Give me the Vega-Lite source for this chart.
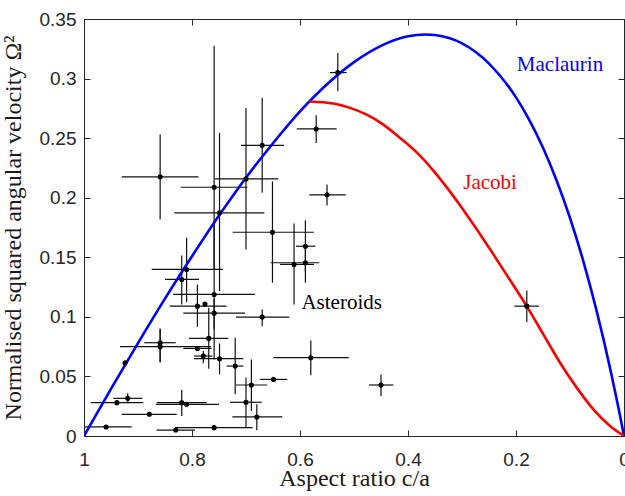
{
  "$schema": "https://vega.github.io/schema/vega-lite/v6.json",
  "width": 540,
  "height": 417,
  "autosize": "none",
  "padding": {"left": 84, "top": 19, "right": 1, "bottom": 60},
  "background": "white",
  "config": {
    "view": {"stroke": "#262626", "strokeWidth": 1},
    "axis": {
      "domain": false,
      "grid": false,
      "tickColor": "#262626",
      "tickSize": -6,
      "tickWidth": 1,
      "labelColor": "#262626",
      "labelFont": "Liberation Sans",
      "labelFontSize": 19,
      "titleFont": "Liberation Serif",
      "titleFontWeight": "normal",
      "titleColor": "#1a1a1a",
      "titleFontSize": 24
    }
  },
  "datasets": {
    "curves": [
      {"name": "Maclaurin", "q": 1.0, "N": 0.0},
      {"name": "Maclaurin", "q": 0.975, "N": 0.0199},
      {"name": "Maclaurin", "q": 0.95, "N": 0.0395},
      {"name": "Maclaurin", "q": 0.9, "N": 0.078},
      {"name": "Maclaurin", "q": 0.85, "N": 0.1153},
      {"name": "Maclaurin", "q": 0.8, "N": 0.1508},
      {"name": "Maclaurin", "q": 0.75, "N": 0.185},
      {"name": "Maclaurin", "q": 0.7, "N": 0.2168},
      {"name": "Maclaurin", "q": 0.65, "N": 0.2457},
      {"name": "Maclaurin", "q": 0.6, "N": 0.2724},
      {"name": "Maclaurin", "q": 0.55, "N": 0.2952},
      {"name": "Maclaurin", "q": 0.5, "N": 0.3138},
      {"name": "Maclaurin", "q": 0.45, "N": 0.3275},
      {"name": "Maclaurin", "q": 0.4, "N": 0.3355},
      {"name": "Maclaurin", "q": 0.3678, "N": 0.337},
      {"name": "Maclaurin", "q": 0.35, "N": 0.3365},
      {"name": "Maclaurin", "q": 0.3, "N": 0.3295},
      {"name": "Maclaurin", "q": 0.25, "N": 0.3126},
      {"name": "Maclaurin", "q": 0.2, "N": 0.2842},
      {"name": "Maclaurin", "q": 0.175, "N": 0.265},
      {"name": "Maclaurin", "q": 0.15, "N": 0.242},
      {"name": "Maclaurin", "q": 0.125, "N": 0.2147},
      {"name": "Maclaurin", "q": 0.1, "N": 0.183},
      {"name": "Maclaurin", "q": 0.075, "N": 0.1462},
      {"name": "Maclaurin", "q": 0.05, "N": 0.1038},
      {"name": "Maclaurin", "q": 0.025, "N": 0.0553},
      {"name": "Maclaurin", "q": 0.01, "N": 0.023},
      {"name": "Maclaurin", "q": 0.0, "N": 0.0},
      {"name": "Jacobi", "q": 0.5827, "N": 0.2807},
      {"name": "Jacobi", "q": 0.5383, "N": 0.279},
      {"name": "Jacobi", "q": 0.5074, "N": 0.2754},
      {"name": "Jacobi", "q": 0.4765, "N": 0.2697},
      {"name": "Jacobi", "q": 0.4457, "N": 0.2614},
      {"name": "Jacobi", "q": 0.4148, "N": 0.2502},
      {"name": "Jacobi", "q": 0.3839, "N": 0.238},
      {"name": "Jacobi", "q": 0.3531, "N": 0.2228},
      {"name": "Jacobi", "q": 0.3222, "N": 0.2051},
      {"name": "Jacobi", "q": 0.3037, "N": 0.1936},
      {"name": "Jacobi", "q": 0.2728, "N": 0.1735},
      {"name": "Jacobi", "q": 0.242, "N": 0.1525},
      {"name": "Jacobi", "q": 0.2111, "N": 0.1309},
      {"name": "Jacobi", "q": 0.1802, "N": 0.109},
      {"name": "Jacobi", "q": 0.1494, "N": 0.0853},
      {"name": "Jacobi", "q": 0.1185, "N": 0.0615},
      {"name": "Jacobi", "q": 0.0876, "N": 0.0406},
      {"name": "Jacobi", "q": 0.0568, "N": 0.0224},
      {"name": "Jacobi", "q": 0.0259, "N": 0.0084},
      {"name": "Jacobi", "q": 0.0, "N": 0.0}
    ],
    "asteroids": [
      {"q": 0.859, "N": 0.2175, "qlo": 0.788, "qhi": 0.93, "Nlo": 0.1817, "Nhi": 0.253},
      {"q": 0.53, "N": 0.305, "qlo": 0.5136, "qhi": 0.5444, "Nlo": 0.2893, "Nhi": 0.3215},
      {"q": 0.57, "N": 0.2577, "qlo": 0.532, "qhi": 0.606, "Nlo": 0.246, "Nhi": 0.2692},
      {"q": 0.55, "N": 0.2024, "qlo": 0.5154, "qhi": 0.5827, "Nlo": 0.1934, "Nhi": 0.211},
      {"q": 0.67, "N": 0.244, "qlo": 0.6296, "qhi": 0.7093, "Nlo": 0.2041, "Nhi": 0.2837},
      {"q": 0.7, "N": 0.2158, "qlo": 0.6402, "qhi": 0.7574, "Nlo": 0.1566, "Nhi": 0.2754},
      {"q": 0.759, "N": 0.2088, "qlo": 0.6975, "qhi": 0.8209, "Nlo": 0.14, "Nhi": 0.3276},
      {"q": 0.749, "N": 0.1873, "qlo": 0.6661, "qhi": 0.8328, "Nlo": 0.1216, "Nhi": 0.2544},
      {"q": 0.651, "N": 0.171, "qlo": 0.5741, "qhi": 0.7247, "Nlo": 0.1286, "Nhi": 0.2138},
      {"q": 0.59, "N": 0.1593, "qlo": 0.5717, "qhi": 0.6074, "Nlo": 0.138, "Nhi": 0.1811},
      {"q": 0.59, "N": 0.1454, "qlo": 0.5643, "qhi": 0.6543, "Nlo": 0.1286, "Nhi": 0.16},
      {"q": 0.611, "N": 0.144, "qlo": 0.5741, "qhi": 0.637, "Nlo": 0.1104, "Nhi": 0.1784},
      {"q": 0.81, "N": 0.1398, "qlo": 0.7432, "qhi": 0.8746, "Nlo": 0.1124, "Nhi": 0.1664},
      {"q": 0.819, "N": 0.1314, "qlo": 0.787, "qhi": 0.85, "Nlo": 0.1104, "Nhi": 0.1515},
      {"q": 0.759, "N": 0.1188, "qlo": 0.6833, "qhi": 0.8346, "Nlo": 0.0643, "Nhi": 0.18},
      {"q": 0.79, "N": 0.109, "qlo": 0.7361, "qhi": 0.8409, "Nlo": 0.0917, "Nhi": 0.1272},
      {"q": 0.776, "N": 0.1107, "qlo": 0.776, "qhi": 0.776, "Nlo": 0.1107, "Nhi": 0.1107},
      {"q": 0.759, "N": 0.1031, "qlo": 0.7018, "qhi": 0.8161, "Nlo": 0.09, "Nhi": 0.115},
      {"q": 0.67, "N": 0.0998, "qlo": 0.6198, "qhi": 0.7185, "Nlo": 0.0922, "Nhi": 0.1062},
      {"q": 0.769, "N": 0.0819, "qlo": 0.7328, "qhi": 0.8056, "Nlo": 0.0565, "Nhi": 0.1077},
      {"q": 0.859, "N": 0.0783, "qlo": 0.8302, "qhi": 0.8883, "Nlo": 0.062, "Nhi": 0.09},
      {"q": 0.859, "N": 0.075, "qlo": 0.7648, "qhi": 0.9333, "Nlo": 0.062, "Nhi": 0.09},
      {"q": 0.79, "N": 0.0735, "qlo": 0.7636, "qhi": 0.8161, "Nlo": 0.0735, "Nhi": 0.0735},
      {"q": 0.779, "N": 0.0671, "qlo": 0.7624, "qhi": 0.7963, "Nlo": 0.061, "Nhi": 0.0713},
      {"q": 0.749, "N": 0.0649, "qlo": 0.705, "qhi": 0.7963, "Nlo": 0.0517, "Nhi": 0.0777},
      {"q": 0.924, "N": 0.0615, "qlo": 0.924, "qhi": 0.924, "Nlo": 0.0615, "Nhi": 0.0615},
      {"q": 0.58, "N": 0.0657, "qlo": 0.5098, "qhi": 0.6494, "Nlo": 0.0509, "Nhi": 0.0802},
      {"q": 0.72, "N": 0.0587, "qlo": 0.705, "qhi": 0.7357, "Nlo": 0.035, "Nhi": 0.0825},
      {"q": 0.649, "N": 0.0475, "qlo": 0.6235, "qhi": 0.6741, "Nlo": 0.0475, "Nhi": 0.0475},
      {"q": 0.69, "N": 0.0428, "qlo": 0.6606, "qhi": 0.7191, "Nlo": 0.021, "Nhi": 0.0643},
      {"q": 0.919, "N": 0.0316, "qlo": 0.892, "qhi": 0.9457, "Nlo": 0.0274, "Nhi": 0.0358},
      {"q": 0.939, "N": 0.028, "qlo": 0.8902, "qhi": 0.9877, "Nlo": 0.028, "Nhi": 0.028},
      {"q": 0.819, "N": 0.028, "qlo": 0.7728, "qhi": 0.8654, "Nlo": 0.0168, "Nhi": 0.0386},
      {"q": 0.81, "N": 0.0266, "qlo": 0.75, "qhi": 0.8667, "Nlo": 0.0266, "Nhi": 0.0266},
      {"q": 0.7, "N": 0.0283, "qlo": 0.6709, "qhi": 0.7296, "Nlo": 0.0073, "Nhi": 0.049},
      {"q": 0.879, "N": 0.0182, "qlo": 0.8284, "qhi": 0.9302, "Nlo": 0.0182, "Nhi": 0.0182},
      {"q": 0.68, "N": 0.016, "qlo": 0.6328, "qhi": 0.7253, "Nlo": 0.0048, "Nhi": 0.0266},
      {"q": 0.959, "N": 0.0076, "qlo": 0.9117, "qhi": 0.9981, "Nlo": 0.0076, "Nhi": 0.0076},
      {"q": 0.83, "N": 0.005, "qlo": 0.7944, "qhi": 0.8654, "Nlo": 0.005, "Nhi": 0.005},
      {"q": 0.759, "N": 0.007, "qlo": 0.6876, "qhi": 0.8315, "Nlo": 0.007, "Nhi": 0.007},
      {"q": 0.45, "N": 0.0428, "qlo": 0.4272, "qhi": 0.4722, "Nlo": 0.0335, "Nhi": 0.0517},
      {"q": 0.18, "N": 0.109, "qlo": 0.1574, "qhi": 0.2031, "Nlo": 0.0956, "Nhi": 0.1222}
    ],
    "labels": [
      {"name": "Maclaurin", "q": 0.1185, "N": 0.3113},
      {"name": "Jacobi", "q": 0.248, "N": 0.2123},
      {"name": "Asteroids", "q": 0.5228, "N": 0.1113}
    ]
  },
  "resolve": {"axis": {"x": "independent", "y": "independent"}},
  "layer": [
    {
      "data": {"name": "asteroids"},
      "mark": {"type": "rule", "color": "#111111", "strokeWidth": 1.2},
      "encoding": {
        "x": {"field": "qlo", "type": "quantitative", "scale": {"domain": [0, 1], "reverse": true, "nice": false, "zero": false}, "axis": null},
        "x2": {"field": "qhi"},
        "y": {"field": "N", "type": "quantitative", "scale": {"domain": [0, 0.35], "nice": false}, "axis": null}
      }
    },
    {
      "data": {"name": "asteroids"},
      "mark": {"type": "rule", "color": "#111111", "strokeWidth": 1.2},
      "encoding": {
        "x": {"field": "q", "type": "quantitative", "axis": null},
        "y": {"field": "Nlo", "type": "quantitative", "axis": null},
        "y2": {"field": "Nhi"}
      }
    },
    {
      "data": {"name": "curves"},
      "mark": {"type": "line", "strokeWidth": 2.6, "clip": true, "interpolate": "monotone"},
      "encoding": {
        "x": {"field": "q", "type": "quantitative", "sort": null,
              "axis": {"orient": "bottom", "values": [0, 0.2, 0.4, 0.6, 0.8, 1], "format": "~g", "title": "Aspect ratio c/a", "labelPadding": 20, "titlePadding": -3, "labelFlush": false}},
        "y": {"field": "N", "type": "quantitative",
              "axis": {"orient": "left", "values": [0, 0.05, 0.1, 0.15, 0.2, 0.25, 0.3, 0.35], "format": "~g", "title": "Normalised squared angular velocity Ω²", "labelPadding": 14, "titlePadding": 14, "labelFlush": false}},
        "color": {"field": "name", "type": "nominal", "scale": {"domain": ["Maclaurin", "Jacobi", "Asteroids"], "range": ["#0000ff", "#ff0000", "#000000"]}, "legend": null},
        "detail": {"field": "name"}
      }
    },
    {
      "data": {"name": "asteroids"},
      "mark": {"type": "circle", "color": "#000000", "opacity": 1, "size": 26},
      "encoding": {
        "x": {"field": "q", "type": "quantitative",
              "axis": {"orient": "top", "values": [0, 0.2, 0.4, 0.6, 0.8, 1], "labels": false, "title": null}},
        "y": {"field": "N", "type": "quantitative",
              "axis": {"orient": "right", "values": [0, 0.05, 0.1, 0.15, 0.2, 0.25, 0.3, 0.35], "labels": false, "title": null}}
      }
    },
    {
      "data": {"name": "labels"},
      "mark": {"type": "text", "font": "Liberation Serif", "fontSize": 21, "align": "center", "baseline": "middle"},
      "encoding": {
        "x": {"field": "q", "type": "quantitative", "axis": null},
        "y": {"field": "N", "type": "quantitative", "axis": null},
        "text": {"field": "name"},
        "color": {"field": "name", "type": "nominal", "legend": null}
      }
    }
  ]
}
